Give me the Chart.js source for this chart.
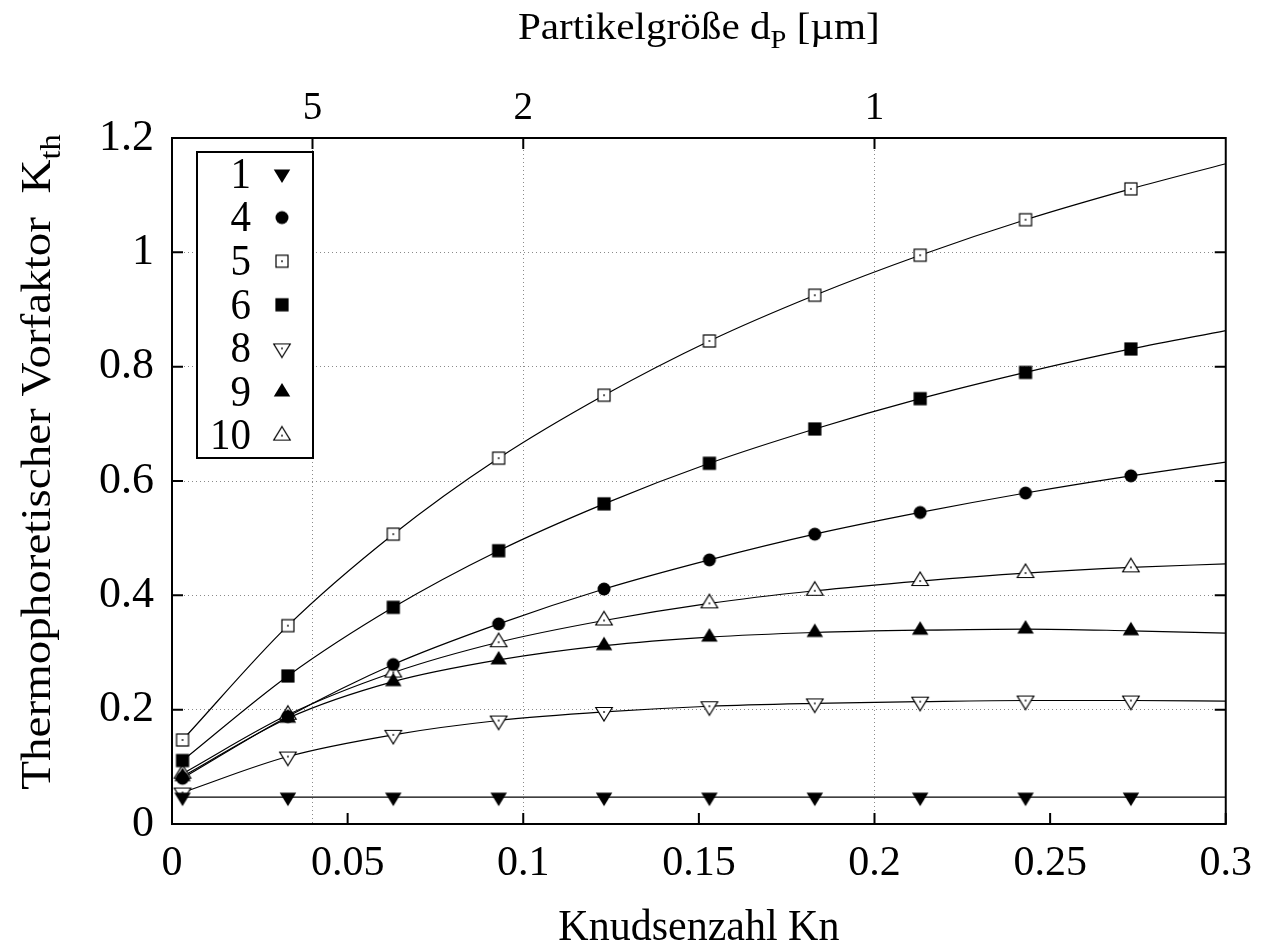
<!DOCTYPE html>
<html>
<head>
<meta charset="utf-8">
<script src="https://cdn.jsdelivr.net/npm/chart.js@4.4.1/dist/chart.umd.min.js"></script>
<style>
html,body{margin:0;padding:0;background:#fff;}
#wrap{width:1267px;height:952px;position:relative;}
</style>
</head>
<body>
<div id="wrap"><canvas id="c" width="1267" height="952"></canvas></div>
<script>
// ---------- data ----------
const kn = [0.003, 0.033, 0.063, 0.093, 0.123, 0.153, 0.183, 0.213, 0.243, 0.273];
const knEnd = 0.3;
const seriesNames = ['1', '4', '5', '6', '8', '9', '10'];
const s1  = [0.047, 0.047, 0.047, 0.047, 0.047, 0.047, 0.047, 0.047, 0.047, 0.047];
const s4  = [0.080, 0.188, 0.279, 0.350, 0.411, 0.462, 0.507, 0.545, 0.579, 0.609];
const s5  = [0.147, 0.347, 0.507, 0.640, 0.750, 0.845, 0.925, 0.995, 1.057, 1.111];
const s6  = [0.111, 0.259, 0.379, 0.478, 0.560, 0.631, 0.691, 0.744, 0.790, 0.831];
const s8  = [0.055, 0.118, 0.156, 0.181, 0.196, 0.206, 0.211, 0.214, 0.216, 0.216];
const s9  = [0.083, 0.185, 0.249, 0.287, 0.312, 0.327, 0.335, 0.339, 0.341, 0.338];
const s10 = [0.088, 0.191, 0.265, 0.318, 0.356, 0.386, 0.408, 0.425, 0.439, 0.449];
const endValues = [0.047, 0.633, 1.155, 0.863, 0.215, 0.334, 0.455];
const seriesValues = [s1, s4, s5, s6, s8, s9, s10];

const xTicks = [0, 0.05, 0.1, 0.15, 0.2, 0.25, 0.3];
const xTickLabels = ['0', '0.05', '0.1', '0.15', '0.2', '0.25', '0.3'];
const yTicks = [0, 0.2, 0.4, 0.6, 0.8, 1.0, 1.2];
const yTickLabels = ['0', '0.2', '0.4', '0.6', '0.8', '1', '1.2'];
const topTickKn = [0.04, 0.1, 0.2];
const topTickLabels = ['5', '2', '1'];

// ---------- styles ----------
const FONT = 'Liberation Serif';
const markerKinds = ['invTriFill', 'circleFill', 'squareOpen', 'squareFill', 'invTriOpen', 'triFill', 'triOpen'];

function makeMarker(kind) {
  const c = document.createElement('canvas');
  c.width = 26; c.height = 26;
  const g = c.getContext('2d');
  const cx = 13, cy = 13;
  g.lineWidth = 1.2;
  g.strokeStyle = '#000';
  const dot = () => { g.fillStyle = '#000'; g.fillRect(cx - 0.8, cy - 0.8, 1.6, 1.6); };
  const w = 16.5, h = 13.5;
  const tri = (up, filled) => {
    g.beginPath();
    if (up) {
      g.moveTo(cx, cy - 2 * h / 3);
      g.lineTo(cx + w / 2, cy + h / 3);
      g.lineTo(cx - w / 2, cy + h / 3);
    } else {
      g.moveTo(cx, cy + 2 * h / 3);
      g.lineTo(cx + w / 2, cy - h / 3);
      g.lineTo(cx - w / 2, cy - h / 3);
    }
    g.closePath();
    if (filled) { g.fillStyle = '#000'; g.fill(); }
    else { g.fillStyle = '#fff'; g.fill(); g.stroke(); dot(); }
  };
  switch (kind) {
    case 'invTriFill': tri(false, true); break;
    case 'invTriOpen': tri(false, false); break;
    case 'triFill': tri(true, true); break;
    case 'triOpen': tri(true, false); break;
    case 'circleFill':
      g.beginPath(); g.arc(cx, cy, 6.5, 0, Math.PI * 2); g.fillStyle = '#000'; g.fill(); break;
    case 'squareFill':
      g.fillStyle = '#000'; g.fillRect(cx - 6.6, cy - 6.6, 13.2, 13.2); break;
    case 'squareOpen':
      g.fillStyle = '#fff'; g.fillRect(cx - 6, cy - 6, 12, 12);
      g.strokeRect(cx - 6, cy - 6, 12, 12); dot(); break;
  }
  return c;
}
const markers = markerKinds.map(makeMarker);

// ---------- datasets ----------
const datasets = [];
seriesNames.forEach((name, i) => {
  const vals = seriesValues[i];
  datasets.push({
    label: name + ' curve',
    data: kn.map((x, j) => ({ x: x, y: vals[j] })).concat([{ x: knEnd, y: endValues[i] }]),
    showLine: true,
    borderColor: '#000',
    borderWidth: 1.2,
    pointRadius: 0,
    cubicInterpolationMode: 'monotone',
    fill: false,
    order: 2
  });
  datasets.push({
    label: name,
    data: kn.map((x, j) => ({ x: x, y: vals[j] })),
    showLine: false,
    pointStyle: markers[i],
    pointRadius: 7,
    order: 1
  });
});

// ---------- plugins ----------
function stretchedText(ctx, text, x, y, sx, sy) {
  ctx.save();
  ctx.translate(x, y);
  ctx.scale(sx, sy);
  ctx.fillText(text, 0, 0);
  ctx.restore();
}

const framePlugin = {
  id: 'frame',
  afterDraw(chart) {
    const ctx = chart.ctx, a = chart.chartArea;
    const sx = chart.scales.x, sx2 = chart.scales.x2, sy = chart.scales.y;
    ctx.save();
    ctx.strokeStyle = '#000';
    ctx.lineWidth = 2;
    const L = 11;
    ctx.beginPath();
    xTicks.forEach(v => { const p = sx.getPixelForValue(v); ctx.moveTo(p, a.bottom); ctx.lineTo(p, a.bottom - L); });
    topTickKn.forEach(v => { const p = sx2.getPixelForValue(v); ctx.moveTo(p, a.top); ctx.lineTo(p, a.top + L); });
    yTicks.forEach(v => {
      const p = sy.getPixelForValue(v);
      ctx.moveTo(a.left, p); ctx.lineTo(a.left + L, p);
      ctx.moveTo(a.right, p); ctx.lineTo(a.right - L, p);
    });
    ctx.stroke();
    ctx.strokeRect(a.left, a.top, a.right - a.left, a.bottom - a.top);

    // legend box
    const bx = 197, by = 152, bw = 116, bh = 306;
    ctx.fillStyle = '#fff';
    ctx.fillRect(bx, by, bw, bh);
    ctx.strokeRect(bx, by, bw, bh);
    ctx.fillStyle = '#000';
    ctx.font = '41px "' + FONT + '"';
    ctx.textAlign = 'right';
    ctx.textBaseline = 'middle';
    seriesNames.forEach((name, i) => {
      const y = 174 + i * 43.6;
      stretchedText(ctx, name, 251, y + 2, 1, 1.1);
      ctx.drawImage(markers[i], 282 - 13, y - 13);
    });

    // titles
    const drawParts = (parts, x, y, scx, scy) => {
      let total = 0;
      parts.forEach(p => { ctx.font = (p.sub ? 29 : 42) + 'px "' + FONT + '"'; p.w = ctx.measureText(p.t).width; total += p.w; });
      ctx.save();
      ctx.translate(x, y);
      ctx.scale(scx, scy);
      let cx = -total / 2;
      ctx.textAlign = 'left';
      ctx.textBaseline = 'alphabetic';
      parts.forEach(p => {
        ctx.font = (p.sub ? 29 : 42) + 'px "' + FONT + '"';
        ctx.fillText(p.t, cx, p.sub ? 10 : 0);
        cx += p.w;
      });
      ctx.restore();
    };
    const midX = (a.left + a.right) / 2;
    drawParts([{ t: 'Partikelgröße d' }, { t: 'P', sub: true }, { t: ' [µm]' }], midX, 39, 0.98, 0.88);
    drawParts([{ t: 'Knudsenzahl Kn' }], midX, 940, 1.0, 1.05);
    ctx.save();
    ctx.translate(50, 462);
    ctx.rotate(-Math.PI / 2);
    drawParts([{ t: 'Thermophoretischer Vorfaktor  K' }, { t: 'th', sub: true }], 0, 0, 1.12, 1.0);
    ctx.restore();
    ctx.restore();
  }
};

const tickFont = { family: FONT, size: 42 };

new Chart(document.getElementById('c'), {
  type: 'scatter',
  data: { datasets: datasets },
  options: {
    responsive: false,
    animation: false,
    events: [],
    layout: { padding: { left: 0, right: 37, top: 0, bottom: 0 } },
    plugins: { legend: { display: false }, tooltip: { enabled: false }, title: { display: false } },
    scales: {
      x: {
        type: 'linear', position: 'bottom', min: 0, max: 0.3,
        afterFit: s => { s.height = 128; },
        afterBuildTicks: s => { s.ticks = xTicks.map(v => ({ value: v })); },
        ticks: { font: tickFont, color: '#000', padding: 15, maxRotation: 0, autoSkip: false,
                 callback: (v, i) => xTickLabels[i] },
        grid: { drawOnChartArea: false, drawTicks: false },
        border: { display: false }
      },
      x2: {
        type: 'linear', position: 'top', min: 0, max: 0.3,
        afterFit: s => { s.height = 138; },
        afterBuildTicks: s => { s.ticks = topTickKn.map(v => ({ value: v })); },
        ticks: { font: { family: FONT, size: 39 }, color: '#000', padding: 6, maxRotation: 0, autoSkip: false,
                 callback: (v, i) => topTickLabels[i] },
        grid: { drawOnChartArea: true, drawTicks: false, color: '#8a8a8a', lineWidth: 1 },
        border: { display: false, dash: [1, 3] }
      },
      y: {
        type: 'linear', position: 'left', min: 0, max: 1.2,
        afterFit: s => { s.width = 172; },
        afterBuildTicks: s => { s.ticks = yTicks.map(v => ({ value: v })); },
        ticks: { font: { family: FONT, size: 44 }, color: '#000', padding: 18, autoSkip: false,
                 callback: (v, i) => yTickLabels[i] },
        grid: { drawTicks: false, lineWidth: 1,
                color: c => (c.tick && c.tick.value > 0.001 && c.tick.value < 1.199) ? '#8a8a8a' : 'rgba(0,0,0,0)' },
        border: { display: false, dash: [1, 3] }
      }
    }
  },
  plugins: [framePlugin]
});
</script>
</body>
</html>
